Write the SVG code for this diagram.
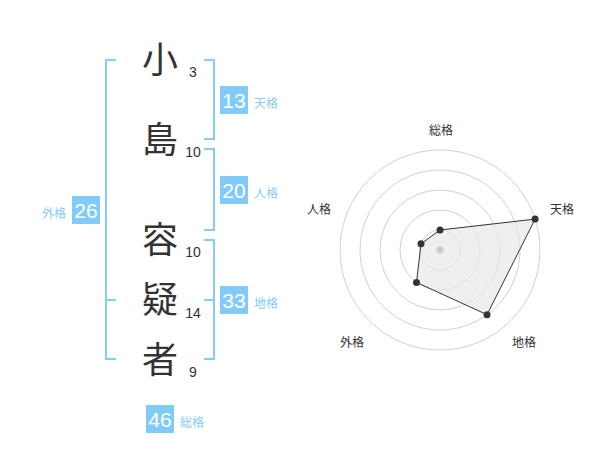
<svg xmlns="http://www.w3.org/2000/svg" width="600" height="470" viewBox="0 0 600 470">
<style>
.ch{font-family:"Noto Sans CJK JP","Noto Sans CJK SC",sans-serif;font-size:36px;fill:#333;text-anchor:middle}
.st{font-family:"Liberation Sans",Arial,sans-serif;font-size:14px;fill:#333;text-anchor:middle}
.br{fill:none;stroke:#86cdf8;stroke-width:2}
.box{fill:#80cbf8}
.bn{font-family:"Liberation Sans",Arial,sans-serif;font-size:21px;fill:#fff;text-anchor:middle}
.lb{font-family:"Noto Sans CJK JP","Noto Sans CJK SC",sans-serif;font-size:12px;fill:#86cdf8}
.rl{font-family:"Noto Sans CJK JP","Noto Sans CJK SC",sans-serif;font-size:12px;fill:#333;text-anchor:middle}
.ring{fill:none;stroke:#d0d0d0;stroke-width:1}
.pt{fill:#333}
</style>
<rect width="600" height="470" fill="#fff"/>
<g id="connectors">
<path class="br" d="M116,60 H106 V359 H116 M106,300 H116"/>
<path class="br" d="M204,60 H214 V139 H204"/>
<path class="br" d="M204,149 H214 V230 H204"/>
<path class="br" d="M204,240 H214 V359 H204 M204,300 H214"/>
</g>
<g id="char1"><text class="ch" x="160" y="73">小</text><text class="st" x="193" y="77">3</text></g>
<g id="char2"><text class="ch" x="160" y="153">島</text><text class="st" x="193" y="157">10</text></g>
<g id="char3"><text class="ch" x="160" y="253">容</text><text class="st" x="193" y="257">10</text></g>
<g id="char4"><text class="ch" x="160" y="313">疑</text><text class="st" x="193" y="318">14</text></g>
<g id="char5"><text class="ch" x="160" y="373">者</text><text class="st" x="193" y="377">9</text></g>
<g id="tenkaku"><rect class="box" x="220" y="86" width="28" height="28"/><text class="bn" x="234" y="107.5">13</text><text class="lb" x="254" y="108">天格</text></g>
<g id="jinkaku"><rect class="box" x="220" y="176" width="28" height="28"/><text class="bn" x="234" y="197.5">20</text><text class="lb" x="254" y="198">人格</text></g>
<g id="gaikaku"><rect class="box" x="72" y="196" width="28" height="28"/><text class="bn" x="86" y="217.5">26</text><text class="lb" x="66" y="218" text-anchor="end">外格</text></g>
<g id="chikaku"><rect class="box" x="220" y="286" width="28" height="28"/><text class="bn" x="234" y="307.5">33</text><text class="lb" x="254" y="308">地格</text></g>
<g id="soukaku"><rect class="box" x="146" y="405" width="28" height="28"/><text class="bn" x="160" y="426.5">46</text><text class="lb" x="180" y="427">総格</text></g>
<g id="radar">
<circle class="ring" cx="440" cy="250" r="20"/>
<circle class="ring" cx="440" cy="250" r="40"/>
<circle class="ring" cx="440" cy="250" r="60"/>
<circle class="ring" cx="440" cy="250" r="80"/>
<circle class="ring" cx="440" cy="250" r="100"/>
<polygon points="440,230 535.1,219.1 487,314.7 416.5,282.4 421,243.8" fill="#e8e8e8" fill-opacity="0.7" stroke="#333" stroke-width="1"/>
<circle cx="440" cy="250" r="3.5" fill="#ccc"/>
<circle class="pt" cx="440" cy="230" r="3.5"/>
<circle class="pt" cx="535.1" cy="219.1" r="3.5"/>
<circle class="pt" cx="487" cy="314.7" r="3.5"/>
<circle class="pt" cx="416.5" cy="282.4" r="3.5"/>
<circle class="pt" cx="421" cy="243.8" r="3.5"/>
<text class="rl" x="441" y="135">総格</text>
<text class="rl" x="562" y="214">天格</text>
<text class="rl" x="319" y="214">人格</text>
<text class="rl" x="352" y="347">外格</text>
<text class="rl" x="524" y="347">地格</text>
</g>
</svg>
